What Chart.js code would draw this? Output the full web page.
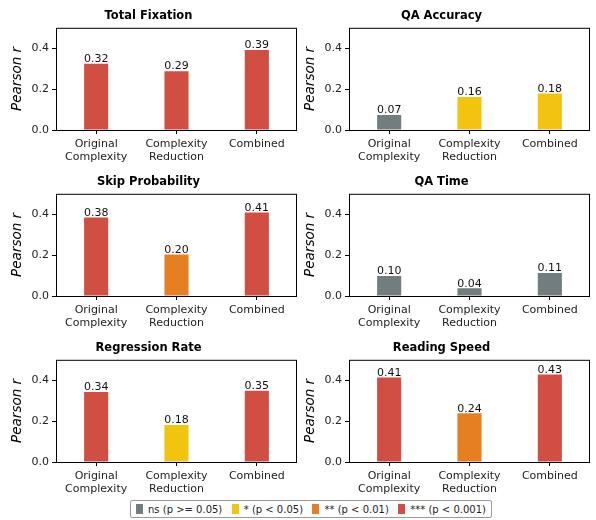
<!DOCTYPE html>
<html>
<head>
<meta charset="utf-8">
<script src="https://cdn.jsdelivr.net/npm/chart.js@4.4.1/dist/chart.umd.min.js"></script>
<style>
  body { margin: 0; background: #fff; font-family: "DejaVu Sans", sans-serif; }
  .panel { position: absolute; width: 298px; height: 166px; }
  #legend { position: absolute; left: 130px; top: 500px; width: 362px; height: 18px;
    border: 1px solid #999; border-radius: 2px; font-size: 10px; color: #222;
    display: flex; align-items: center; justify-content: space-between; box-sizing: border-box; padding: 0 5px; }
  #legend span.sw { display: inline-block; width: 7px; height: 10px; margin-right: 5px; vertical-align: -1px; }
</style>
</head>
<body>
<div class="panel" style="left:0;top:0"><canvas id="c0"></canvas></div>
<div class="panel" style="left:293px;top:0"><canvas id="c1"></canvas></div>
<div class="panel" style="left:0;top:166px"><canvas id="c2"></canvas></div>
<div class="panel" style="left:293px;top:166px"><canvas id="c3"></canvas></div>
<div class="panel" style="left:0;top:332px"><canvas id="c4"></canvas></div>
<div class="panel" style="left:293px;top:332px"><canvas id="c5"></canvas></div>
<div id="legend"></div>
<script>
const categories = [['Original', 'Complexity'], ['Complexity', 'Reduction'], 'Combined'];
const titles = ['Total Fixation', 'QA Accuracy', 'Skip Probability', 'QA Time', 'Regression Rate', 'Reading Speed'];
const yTicks = [0, 0.2, 0.4];

const totalFixation = [0.324, 0.288, 0.391];
const qaAccuracy = [0.073, 0.162, 0.179];
const skipProbability = [0.384, 0.203, 0.409];
const qaTime = [0.098, 0.038, 0.112];
const regressionRate = [0.342, 0.181, 0.348];
const readingSpeed = [0.414, 0.238, 0.428];

// significance level per bar: 0 ns, 1 *, 2 **, 3 ***
const totalFixationSig = [3, 3, 3];
const qaAccuracySig = [0, 1, 1];
const skipProbabilitySig = [3, 2, 3];
const qaTimeSig = [0, 0, 0];
const regressionRateSig = [3, 1, 3];
const readingSpeedSig = [3, 2, 3];

const sigLabels = ['ns (p >= 0.05)', '* (p < 0.05)', '** (p < 0.01)', '*** (p < 0.001)'];
const sigColors = ['#717d7e', '#f1c40f', '#e67e22', '#d14e42'];

const allValues = [totalFixation, qaAccuracy, skipProbability, qaTime, regressionRate, readingSpeed];
const allSig = [totalFixationSig, qaAccuracySig, skipProbabilitySig, qaTimeSig, regressionRateSig, readingSpeedSig];

const font = "'DejaVu Sans', sans-serif";

const frame = {
  id: 'frame',
  afterDatasetsDraw(chart) {
    const a = chart.chartArea, ctx = chart.ctx;
    ctx.save();
    ctx.strokeStyle = '#000';
    ctx.lineWidth = 1;
    ctx.strokeRect(a.left + 0.5, a.top + 0.5, a.right - a.left - 1, a.bottom - a.top);
    // value labels
    ctx.fillStyle = '#111';
    ctx.font = '11px ' + font;
    ctx.textAlign = 'center';
    ctx.textBaseline = 'bottom';
    const meta = chart.getDatasetMeta(0);
    meta.data.forEach((bar, i) => {
      ctx.fillText(chart.data.datasets[0].data[i].toFixed(2), bar.x, bar.y + 1);
    });
    ctx.restore();
  }
};

allValues.forEach((vals, k) => {
  new Chart(document.getElementById('c' + k), {
    type: 'bar',
    data: {
      labels: categories,
      datasets: [{
        data: vals,
        backgroundColor: allSig[k].map(s => sigColors[s]),
        barPercentage: 0.3,
        categoryPercentage: 1
      }]
    },
    options: {
      responsive: true,
      maintainAspectRatio: false,
      animation: false,
      layout: { padding: { left: 0, right: 1, top: 0, bottom: 0 } },
      plugins: {
        legend: { display: false },
        tooltip: { enabled: false },
        title: {
          display: true, text: titles[k], color: '#000',
          font: { family: font, size: 11.5, weight: 'bold' },
          padding: { top: 9, bottom: 5 }
        }
      },
      scales: {
        x: {
          grid: { offset: false, drawOnChartArea: false, drawTicks: true, tickLength: 4, color: '#000' },
          border: { display: false },
          ticks: { color: '#222', font: { family: font, size: 11, lineHeight: 1.15 }, padding: 4, maxRotation: 0, autoSkip: false },
          afterFit(s) { s.height = 36; }
        },
        y: {
          min: 0, max: 0.5,
          afterBuildTicks(s) { s.ticks = yTicks.map(v => ({ value: v })); },
          grid: { drawOnChartArea: false, drawTicks: true, tickLength: 4, color: '#000' },
          border: { display: false },
          ticks: { color: '#222', font: { family: font, size: 11 }, padding: 3,
            callback: v => v.toFixed(1) },
          title: { display: true, text: 'Pearson r', color: '#000',
            font: { family: font, size: 13.5, style: 'italic' }, padding: { top: 9, bottom: 0 } },
          afterFit(s) { s.width = 56; }
        }
      }
    },
    plugins: [frame]
  });
});

document.getElementById('legend').innerHTML = sigLabels.map((t, i) =>
  '<span><span class="sw" style="background:' + sigColors[i] + '"></span>' + t + '</span>').join('');
</script>
</body>
</html>
